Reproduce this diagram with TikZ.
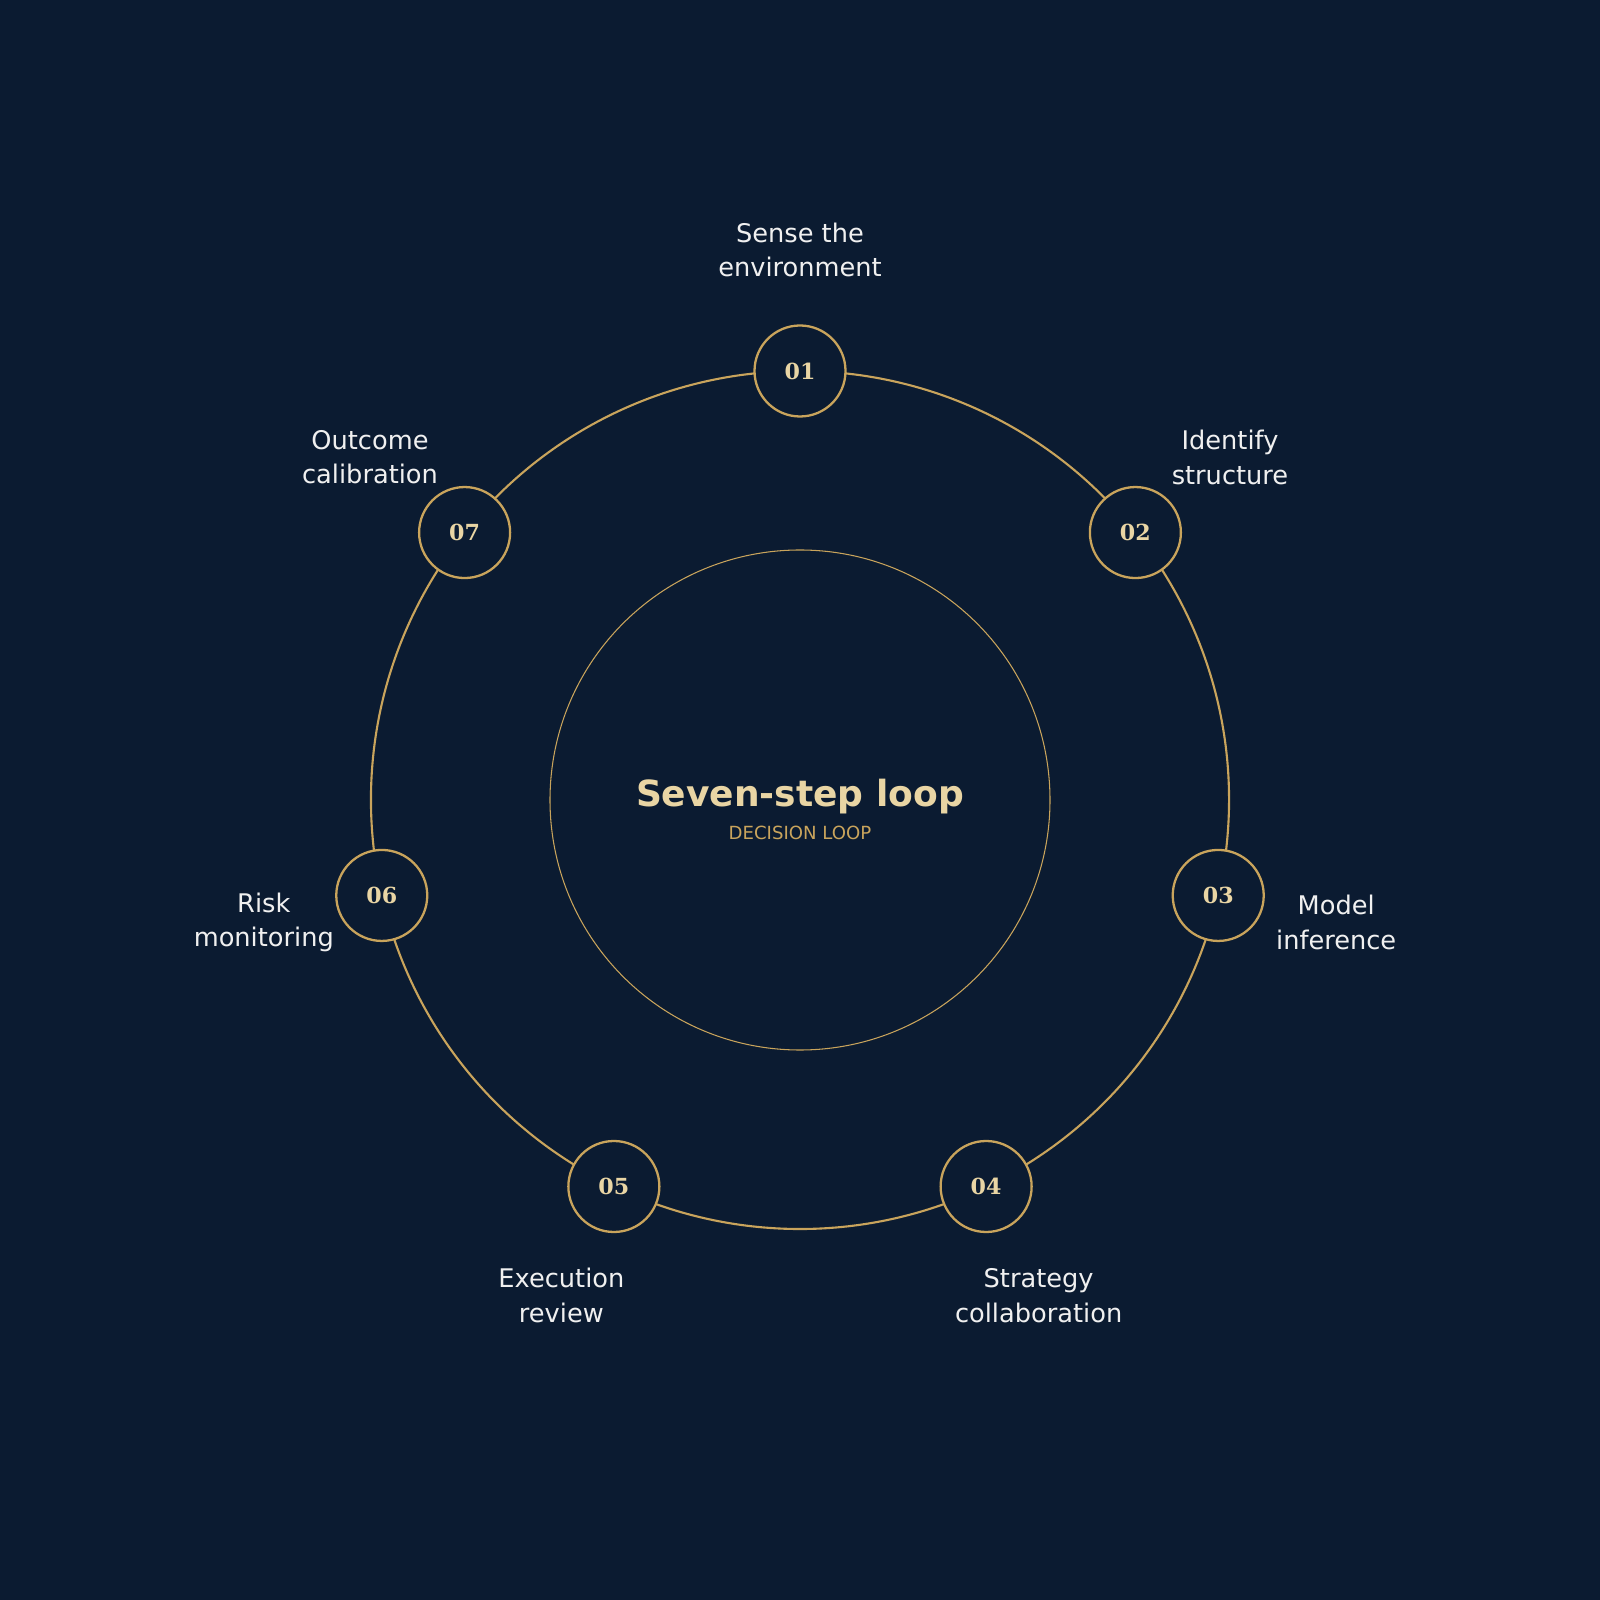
\documentclass[tikz,border=0pt]{standalone}
\usepackage{fontspec}
\setmainfont{DejaVu Sans}
\newfontfamily\numfont{DejaVu Serif}
\usetikzlibrary{backgrounds}
\definecolor{navy}{HTML}{0B1B31}
\definecolor{gold}{HTML}{C9A45C}
\definecolor{sand}{HTML}{E9D5A4}
\definecolor{paper}{HTML}{F0F0F0}

\begin{document}
\begin{tikzpicture}[
	stage/.style={circle, draw=gold, line width=0.65pt, fill=navy, minimum size=0.91cm, inner sep=0pt, text=sand, font=\numfont\bfseries\fontsize{6.3}{7}\selectfont},
	stagetext/.style={align=center, text=paper, font=\fontsize{7.3}{9.9}\selectfont},
	ring/.style={draw=gold, line width=0.6pt, bend left=25.714, looseness=0.9}]
\node[circle, draw=gold, line width=0.3pt, minimum size=5cm]	(hub)	at (0,0)			{};
\node[anchor=base, text=sand, font=\bfseries\fontsize{10.25}{12}\selectfont]	(title)	at (0,-0.07)	{Seven-step loop};
\node[anchor=base, text=gold, font=\fontsize{5.15}{6}\selectfont]			(sub)	at (0,-0.4)	{DECISION LOOP};

\node[stage]		(s1)	at (90:4.29)		{01};
\node[stage]		(s2)	at (38.571:4.29)	{02};
\node[stage]		(s3)	at (-12.857:4.29)	{03};
\node[stage]		(s4)	at (-64.286:4.29)	{04};
\node[stage]		(s5)	at (-115.714:4.29)	{05};
\node[stage]		(s6)	at (-167.143:4.29)	{06};
\node[stage]		(s7)	at (141.429:4.29)	{07};

\node[stagetext]	(t1)	at (90:5.5)			{Sense the\\environment};
\node[stagetext]	(t2)	at (38.571:5.5)		{Identify\\structure};
\node[stagetext]	(t3)	at (-12.857:5.5)	{Model\\inference};
\node[stagetext]	(t4)	at (-64.286:5.5)	{Strategy\\collaboration};
\node[stagetext]	(t5)	at (-115.714:5.5)	{Execution\\review};
\node[stagetext]	(t6)	at (-167.143:5.5)	{Risk\\monitoring};
\node[stagetext]	(t7)	at (141.429:5.5)	{Outcome\\calibration};

\begin{scope}[on background layer]
\fill[navy] (-8,-8) rectangle (8,8);
\path
(s1.center)	edge[ring]	(s2.center)
(s2.center)	edge[ring]	(s3.center)
(s3.center)	edge[ring]	(s4.center)
(s4.center)	edge[ring]	(s5.center)
(s5.center)	edge[ring]	(s6.center)
(s6.center)	edge[ring]	(s7.center)
(s7.center)	edge[ring]	(s1.center)
;
\end{scope}
\end{tikzpicture}
\end{document}
